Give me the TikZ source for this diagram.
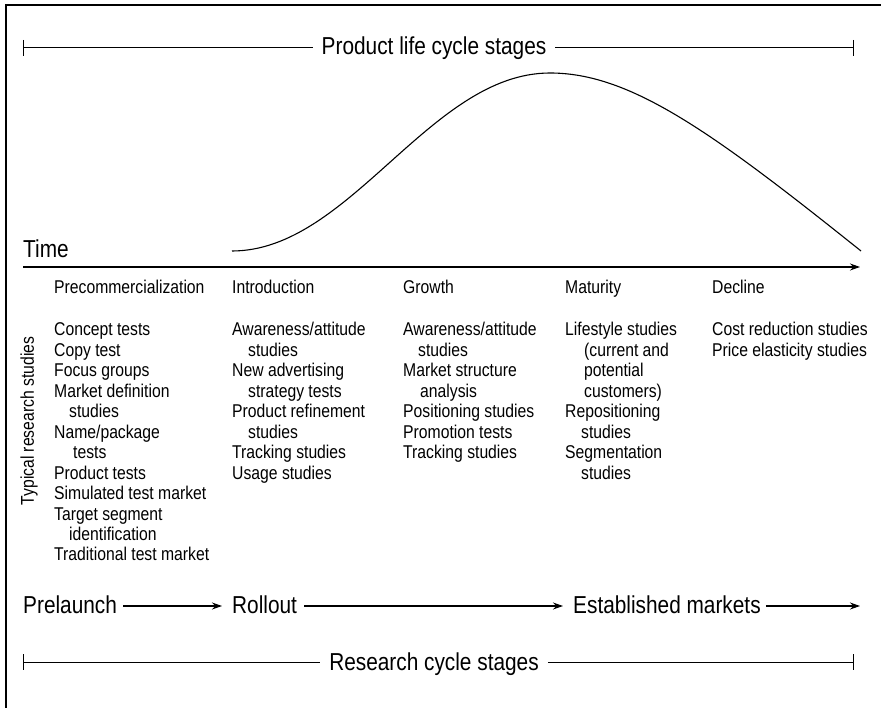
\documentclass[tikz,border=0pt]{standalone}
\usepackage{fontspec}
\setmainfont{Liberation Sans}[FakeStretch=0.85]
\usetikzlibrary{arrows.meta}
\newcommand\itm[4]{\node[sm] (#1) at (#2,{336+#3*20.45}) {#4};}
\begin{document}
\begin{tikzpicture}[x=1pt,y=-1pt,
  big/.style={font=\fontsize{24.5}{28}\selectfont, inner sep=0pt},
  sm/.style={font=\fontsize{18.5}{21}\selectfont, inner sep=0pt, anchor=base west},
  arr/.style={-{Stealth[length=10pt,width=7pt]}, line width=1.1pt},
  brk/.style={line width=1pt},
  frame/.style={line width=1.4pt},
  curve/.style={line width=1.1pt}]
\useasboundingbox (0,0) rectangle (881,708);
% frame
\coordinate (fbl) at (6,708);
\coordinate (ftl) at (6,5);
\coordinate (ftr) at (881,5);
\draw[frame] (fbl) -- (ftl) -- (ftr);

% product life cycle bracket
\coordinate (tl) at (23,48);
\coordinate (tr) at (853,48);
\node[big, anchor=base] (ptitle) at (434,55) {Product life cycle stages};
\draw[brk, shorten >=9pt] (tl) -- (ptitle.west |- tl);
\draw[brk, shorten <=9pt] (ptitle.east |- tr) -- (tr);
\draw[brk] ([yshift=8pt]tl) -- ([yshift=-8pt]tl);
\draw[brk] ([yshift=8pt]tr) -- ([yshift=-8pt]tr);

% time axis and curve
\coordinate (ax0) at (23,267);
\coordinate (ax1) at (860,267);
\draw[arr] (ax0) -- (ax1);
\node[big, anchor=base west] (time) at (23,258) {Time};
\coordinate (c0) at (232,251);
\coordinate (cp) at (550,73);
\coordinate (c1) at (861,251);
\draw[curve] (c0) .. controls (350,251) and (430,73) .. (cp)
                  .. controls (630,73) and (711,131) .. (c1);

% stage headings
\node[sm] (hpre) at (54,294) {Precommercialization};
\node[sm] (hint) at (232,294) {Introduction};
\node[sm] (hgro) at (403,294) {Growth};
\node[sm] (hmat) at (565,294) {Maturity};
\node[sm] (hdec) at (712,294) {Decline};

% vertical label
\node[sm, anchor=base, rotate=90] (typ) at (34,421) {Typical research studies};

% precommercialization
\itm{p0}{54}{0}{Concept tests}
\itm{p1}{54}{1}{Copy test}
\itm{p2}{54}{2}{Focus groups}
\itm{p3}{54}{3}{Market definition}
\itm{p4}{69}{4}{studies}
\itm{p5}{54}{5}{Name/package}
\itm{p6}{73}{6}{tests}
\itm{p7}{54}{7}{Product tests}
\itm{p8}{54}{8}{Simulated test market}
\itm{p9}{54}{9}{Target segment}
\itm{p10}{69}{10}{identification}
\itm{p11}{54}{11}{Traditional test market}

% introduction
\itm{i0}{232}{0}{Awareness/attitude}
\itm{i1}{248}{1}{studies}
\itm{i2}{232}{2}{New advertising}
\itm{i3}{248}{3}{strategy tests}
\itm{i4}{232}{4}{Product refinement}
\itm{i5}{248}{5}{studies}
\itm{i6}{232}{6}{Tracking studies}
\itm{i7}{232}{7}{Usage studies}

% growth
\itm{g0}{403}{0}{Awareness/attitude}
\itm{g1}{418}{1}{studies}
\itm{g2}{403}{2}{Market structure}
\itm{g3}{420}{3}{analysis}
\itm{g4}{403}{4}{Positioning studies}
\itm{g5}{403}{5}{Promotion tests}
\itm{g6}{403}{6}{Tracking studies}

% maturity
\itm{m0}{565}{0}{Lifestyle studies}
\itm{m1}{584}{1}{(current and}
\itm{m2}{584}{2}{potential}
\itm{m3}{584}{3}{customers)}
\itm{m4}{565}{4}{Repositioning}
\itm{m5}{581}{5}{studies}
\itm{m6}{565}{6}{Segmentation}
\itm{m7}{581}{7}{studies}

% decline
\itm{d0}{712}{0}{Cost reduction studies}
\itm{d1}{712}{1}{Price elasticity studies}

% research flow
\coordinate (ay) at (0,606);
\coordinate (aend) at (860,606);
\node[big, anchor=base west] (pre) at (23,613) {Prelaunch};
\node[big, anchor=base west] (ro) at (232,613) {Rollout};
\node[big, anchor=base west] (est) at (573,613) {Established markets};
\draw[arr, shorten <=6pt, shorten >=10pt] (pre.east |- ay) -- (ro.west |- ay);
\draw[arr, shorten <=7pt, shorten >=10pt] (ro.east |- ay) -- (est.west |- ay);
\draw[arr, shorten <=5pt] (est.east |- ay) -- (aend);

% research cycle bracket
\coordinate (bl) at (23,662);
\coordinate (br) at (853,662);
\node[big, anchor=base] (rtitle) at (434,670) {Research cycle stages};
\draw[brk, shorten >=9pt] (bl) -- (rtitle.west |- bl);
\draw[brk, shorten <=9pt] (rtitle.east |- br) -- (br);
\draw[brk] ([yshift=8pt]bl) -- ([yshift=-8pt]bl);
\draw[brk] ([yshift=8pt]br) -- ([yshift=-8pt]br);
\end{tikzpicture}
\end{document}
